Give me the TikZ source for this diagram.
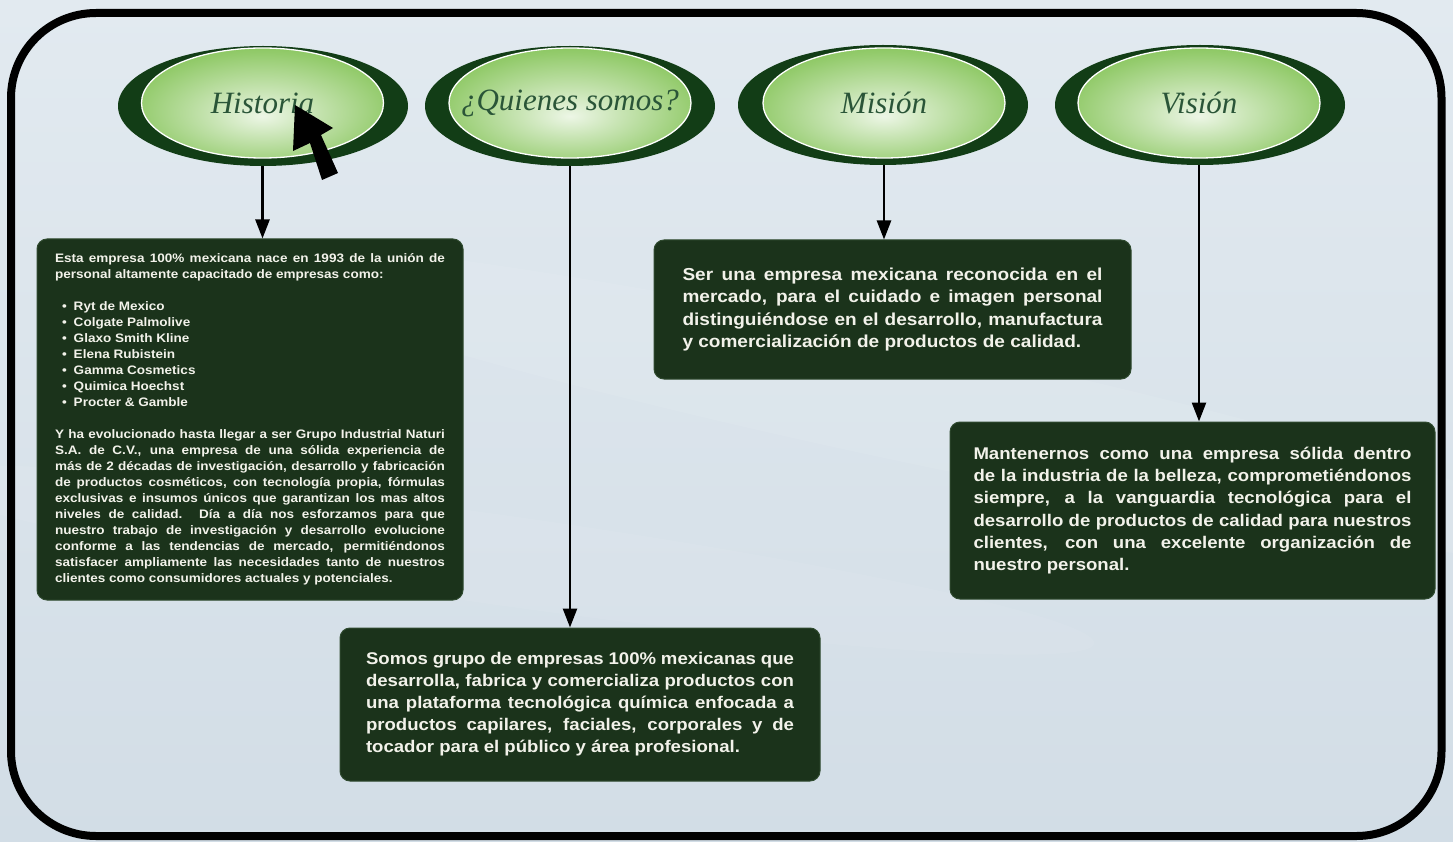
\documentclass[tikz,border=0pt]{standalone}
\usepackage{fontspec}
\setmainfont{Liberation Sans}
\newfontfamily\boxfont{Liberation Sans}[FakeStretch=1.1]
\newfontfamily\titlefont{Liberation Serif}
\usetikzlibrary{arrows.meta,shapes.geometric}
\definecolor{bgA}{HTML}{E2EAF0}
\definecolor{bgB}{HTML}{D2DDE6}
\definecolor{boxgreen}{HTML}{1B331B}
\definecolor{boxedge}{HTML}{2F4A2F}
\definecolor{darkell}{HTML}{123D16}
\definecolor{ellout}{HTML}{66B52E}
\definecolor{titlecol}{HTML}{2A5538}
\definecolor{txt}{HTML}{F2F2EA}
\pgfdeclareradialshading{ellshade}{\pgfpoint{0bp}{-6bp}}{%
  color(0bp)=(white!88!ellout); color(10bp)=(white!65!ellout);
  color(26bp)=(white!30!ellout); color(42bp)=(ellout); color(60bp)=(ellout)}
\hbadness=10000
\begin{document}
\begin{tikzpicture}[x=1pt,y=-1pt,
  outerell/.style={ellipse, fill=darkell, minimum width=290pt, minimum height=120pt, inner sep=0pt},
  innerell/.style={ellipse, shading=ellshade, draw=white, line width=1.3pt,
    minimum width=242pt, minimum height=110pt, inner sep=0pt},
  title/.style={text=titlecol, inner sep=0pt, font=\titlefont\itshape\fontsize{31}{34}\selectfont},
  gbox/.style={rectangle, rounded corners=10pt, fill=boxgreen, draw=boxedge, line width=1pt,
    inner sep=0pt, text=txt, align=justify},
  conn/.style={line width=2.5pt, -{Triangle[width=14pt,length=19pt]}},
  pointer/.style={fill=black}
]
\useasboundingbox (0,0) rectangle (1453,842);
\shade[top color=bgA, bottom color=bgB] (0,0) rectangle (1453,842);
\fill[white, opacity=0.08, rotate around={-12:(900,400)}] (900,400) ellipse [x radius=700pt, y radius=60pt];
\fill[white, opacity=0.06, rotate around={-8:(500,560)}] (500,560) ellipse [x radius=600pt, y radius=45pt];
\draw[line width=8pt, rounded corners=85pt] (11,13) rectangle (1441.5,836);

% ellipses
\node[outerell] (hist) at (263,106) {};
\node[innerell, label={[title]center:Historia}] (histIn) at (262.5,103) {};
\node[outerell] (quien) at (570,106) {};
\node[innerell, label={[title]center:¿Quienes somos?}] (quienIn) at (570,103) {};
\node[outerell] (mis) at (883,105) {};
\node[innerell, label={[title]center:Misión}] (misIn) at (884,103) {};
\node[outerell] (vis) at (1200,105) {};
\node[innerell, label={[title]center:Visión}] (visIn) at (1199,103) {};

% boxes
\node[gbox, minimum width=426pt, minimum height=361pt, text width=390pt,
  font=\boxfont\bfseries\fontsize{12.3}{16}\selectfont] (bhist) at (250,419.5) {%
\parindent=0pt
Esta  empresa 100\%  mexicana nace en 1993  de la unión de\linebreak
personal altamente capacitado de empresas como:\par
\vspace{16pt}
\hspace*{7pt}•\hspace{7pt}Ryt de Mexico\par
\hspace*{7pt}•\hspace{7pt}Colgate Palmolive\par
\hspace*{7pt}•\hspace{7pt}Glaxo Smith Kline\par
\hspace*{7pt}•\hspace{7pt}Elena Rubistein\par
\hspace*{7pt}•\hspace{7pt}Gamma Cosmetics\par
\hspace*{7pt}•\hspace{7pt}Quimica Hoechst\par
\hspace*{7pt}•\hspace{7pt}Procter \& Gamble\par
\vspace{16pt}
Y ha evolucionado hasta llegar a ser Grupo Industrial Naturi\linebreak
S.A. de C.V., una empresa de una sólida experiencia de\linebreak
más de 2 décadas de investigación, desarrollo y fabricación\linebreak
de productos cosméticos, con tecnología propia, fórmulas\linebreak
exclusivas e insumos únicos que garantizan los mas altos\linebreak
niveles de calidad. Día a día nos esforzamos para que\linebreak
nuestro trabajo de investigación y desarrollo evolucione\linebreak
conforme a las tendencias de mercado, permitiéndonos\linebreak
satisfacer ampliamente las necesidades tanto de nuestros\linebreak
clientes como consumidores actuales y potenciales.};

\node[gbox, minimum width=477pt, minimum height=139pt, text width=420pt,
  font=\boxfont\bfseries\fontsize{17.3}{22.6}\selectfont] (bmis) at (892.5,309.5) {%
Ser una empresa mexicana reconocida en el\linebreak
mercado, para el cuidado e imagen personal\linebreak
distinguiéndose en el desarrollo, manufactura\linebreak
y comercialización de productos de calidad.};

\node[gbox, minimum width=480pt, minimum height=153pt, text width=428pt,
  font=\boxfont\bfseries\fontsize{16.9}{22}\selectfont] (bquien) at (580,704.5) {%
Somos grupo de empresas 100\% mexicanas que\linebreak
desarrolla, fabrica y comercializa productos con\linebreak
una plataforma tecnológica química enfocada a\linebreak
productos capilares, faciales, corporales y de\linebreak
tocador para el público y área profesional.};

\node[gbox, minimum width=485pt, minimum height=177pt, text width=438pt,
  font=\boxfont\bfseries\fontsize{16.9}{22.2}\selectfont] (bvis) at (1192.5,510.5) {%
Mantenernos como una empresa sólida dentro\linebreak
de la industria de la belleza, comprometiéndonos\linebreak
siempre, a la vanguardia tecnológica para el\linebreak
desarrollo de productos de calidad para nuestros\linebreak
clientes, con una excelente organización de\linebreak
nuestro personal.};

% connectors
\draw[conn] (histIn.south |- hist.south) -- (histIn.south |- bhist.north);
\draw[conn] (quienIn.south |- quien.south) -- (quienIn.south |- bquien.north);
\draw[conn] (misIn.south |- mis.south) -- (misIn.south |- bmis.north);
\draw[conn] (visIn.south |- vis.south) -- (visIn.south |- bvis.north);

% mouse pointer
\fill[pointer] (295,105) -- (333,128) -- (321,135) -- (338,173) -- (322,180) -- (310,143) -- (293,151) -- cycle;
\end{tikzpicture}
\end{document}
